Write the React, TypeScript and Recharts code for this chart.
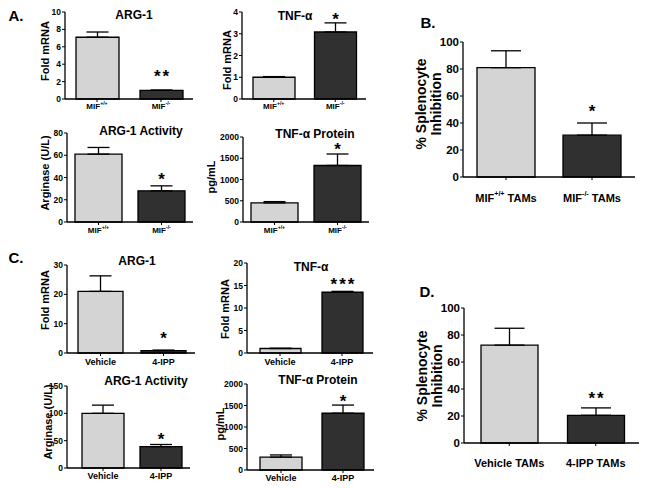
// Figure: MIF / 4-IPP effects on TAM polarisation markers and splenocyte inhibition.
// Ten small bar panels laid out absolutely to match the original multi-panel figure.
import React from 'react';
import { BarChart, Bar, XAxis, YAxis, ErrorBar, Cell, LabelList } from 'recharts';

const FONT = '"Liberation Sans", Arial, Helvetica, sans-serif';
const barFills = ['#d4d4d4', '#303030'];

// --- Panel A: MIF+/+ vs MIF-/- ---
const mifGroups = ['MIF+/+', 'MIF-/-'];
const arg1MifFold = [7.1, 1.0];
const arg1MifFoldErr = [0.6, 0.02];
const arg1MifSig = ['', '**'];
const arg1MifTicks = [0, 2, 4, 6, 8, 10];

const tnfMifFold = [1.0, 3.08];
const tnfMifFoldErr = [0.03, 0.42];
const tnfMifSig = ['', '*'];
const tnfMifTicks = [0, 1, 2, 3, 4];

const arg1MifActivity = [61, 28];
const arg1MifActivityErr = [6, 4.5];
const arg1MifActivitySig = ['', '*'];
const activityMifTicks = [0, 20, 40, 60, 80];

const tnfMifProtein = [450, 1330];
const tnfMifProteinErr = [30, 270];
const tnfMifProteinSig = ['', '*'];
const proteinTicks = [0, 500, 1000, 1500, 2000];

// --- Panel B ---
const mifTamGroups = ['MIF+/+ TAMs', 'MIF-/- TAMs'];
const splenoMif = [81, 31];
const splenoMifErr = [12.5, 9];
const splenoMifSig = ['', '*'];
const pctTicks = [0, 20, 40, 60, 80, 100];

// --- Panel C: Vehicle vs 4-IPP ---
const ippGroups = ['Vehicle', '4-IPP'];
const arg1IppFold = [21, 0.8];
const arg1IppFoldErr = [5.3, 0.2];
const arg1IppSig = ['', '*'];
const arg1IppTicks = [0, 10, 20, 30];

const tnfIppFold = [1.0, 13.5];
const tnfIppFoldErr = [0.05, 0.2];
const tnfIppSig = ['', '***'];
const tnfIppTicks = [0, 5, 10, 15, 20];

const arg1IppActivity = [100, 39];
const arg1IppActivityErr = [15, 4];
const arg1IppActivitySig = ['', '*'];
const activityIppTicks = [0, 50, 100, 150];

const tnfIppProtein = [300, 1320];
const tnfIppProteinErr = [50, 190];
const tnfIppProteinSig = ['', '*'];

// --- Panel D ---
const ippTamGroups = ['Vehicle TAMs', '4-IPP TAMs'];
const splenoIpp = [72.5, 20.5];
const splenoIppErr = [12.5, 5.5];
const splenoIppSig = ['', '**'];

const YW = 44;
const MT = 12;
const XH = 34;
const MR = 4;

const CatTick = (props: any) => {
  const { x, y, payload, font, gap } = props;
  const label: string = String(payload.value);
  const m = label.match(/^MIF([+\-]\/[+\-])(.*)$/);
  const common = {
    x,
    y: y - 3 + gap,
    textAnchor: 'middle' as const,
    dominantBaseline: 'central' as const,
    fontSize: font,
    fontWeight: 'bold',
    fontFamily: FONT,
    fill: '#000',
  };
  if (!m) return <text {...common}>{label}</text>;
  const sup = font * 0.65;
  return (
    <text {...common}>
      MIF
      <tspan fontSize={sup} dy={-font * 0.4}>{m[1]}</tspan>
      {m[2] ? <tspan dy={font * 0.4}>{'\u00a0' + m[2].trim()}</tspan> : null}
    </text>
  );
};

type PanelProps = {
  x: number;
  top: number;
  zero: number;
  right: number;
  padLeft?: number;
  cats: string[];
  values: number[];
  errors: number[];
  sig: string[];
  ticks: number[];
  barSize: number;
  cap: number;
  tickFont: number;
  catFont: number;
  catGap: number;
  starGap: number;
  starFont?: number;
};

function Panel(p: PanelProps) {
  const data = p.cats.map((cat, i) => ({ cat, value: p.values[i], err: [0, p.errors[i]], sig: p.sig[i] }));
  const width = YW + (p.right - p.x) + MR;
  const height = MT + (p.zero - p.top) + XH;
  const max = p.ticks[p.ticks.length - 1];
  const starFont = p.starFont ?? 17;

  const star = (props: any) => {
    const vb = props.viewBox ?? props;
    const idx = props.index;
    const val = props.value;
    if (!val || !vb) return null;
    const h = Math.abs(vb.height);
    const topY = Math.min(vb.y, vb.y + vb.height);
    const errPx = p.values[idx] ? (p.errors[idx] * h) / p.values[idx] : 0;
    const cy = topY - errPx - p.starGap;
    return (
      <text
        x={vb.x + vb.width / 2 + 1}
        y={cy + starFont * 0.57}
        textAnchor="middle"
        fontSize={starFont}
        fontWeight="bold"
        fontFamily={FONT}
        fill="#000"
        style={{ letterSpacing: 2 }}
      >
        {val}
      </text>
    );
  };

  return (
    <div style={{ position: 'absolute', left: p.x - YW, top: p.top - MT }}>
      <BarChart width={width} height={height} data={data} margin={{ top: MT, right: MR, left: 0, bottom: 0 }}>
        <XAxis
          dataKey="cat"
          height={XH}
          interval={0}
          tickSize={3}
          tickMargin={0}
          padding={{ left: p.padLeft ?? 0, right: 0 }}
          axisLine={{ stroke: '#000', strokeWidth: 1.3 }}
          tickLine={{ stroke: '#000', strokeWidth: 1 }}
          tick={<CatTick font={p.catFont} gap={p.catGap} />}
        />
        <YAxis
          width={YW}
          domain={[0, max]}
          ticks={p.ticks}
          interval={0}
          tickSize={3}
          tickMargin={1}
          axisLine={{ stroke: '#000', strokeWidth: 1.3 }}
          tickLine={{ stroke: '#000', strokeWidth: 1 }}
          tick={{ fontSize: p.tickFont, fill: '#000', fontWeight: 'bold', fontFamily: FONT }}
        />
        <Bar dataKey="value" barSize={p.barSize} stroke="#000" strokeWidth={1.3} isAnimationActive={false}>
          {data.map((d, i) => (
            <Cell key={d.cat} fill={barFills[i]} />
          ))}
          <ErrorBar dataKey="err" width={p.cap} stroke="#000" strokeWidth={1.3} direction="y" />
          <LabelList dataKey="sig" content={star} />
        </Bar>
      </BarChart>
    </div>
  );
}

const Txt = ({ x, y, size, rotate, children }: any) => (
  <div
    style={{
      position: 'absolute',
      left: x,
      top: y,
      transform: `translate(-50%, -50%)${rotate ? ' rotate(-90deg)' : ''}`,
      fontFamily: FONT,
      fontWeight: 'bold',
      fontSize: size,
      whiteSpace: 'nowrap',
      lineHeight: rotate === 2 ? '14.5px' : 1,
      textAlign: 'center',
      color: '#000',
    }}
  >
    {children}
  </div>
);

const small = { tickFont: 8.5, catFont: 8, catGap: 7, cap: 11 };
const smallC = { tickFont: 8.5, catFont: 9, catGap: 9, cap: 11 };
const big = { tickFont: 11.5, catFont: 11, catGap: 21, cap: 15 };

export default function App() {
  return (
    <div style={{ position: 'absolute', left: 0, top: 0, width: 645, height: 488, background: '#fff', overflow: 'hidden' }}>
      {/* A */}
      <Panel {...small} x={65} top={12} zero={99} right={193} cats={mifGroups} values={arg1MifFold} errors={arg1MifFoldErr} sig={arg1MifSig} ticks={arg1MifTicks} barSize={43} starGap={18} />
      <Panel {...small} x={242} top={12} zero={99} right={366} padLeft={1} cats={mifGroups} values={tnfMifFold} errors={tnfMifFoldErr} sig={tnfMifSig} ticks={tnfMifTicks} barSize={42} starGap={8} />
      <Panel {...small} catGap={8} x={67} top={133} zero={222} right={193} cats={mifGroups} values={arg1MifActivity} errors={arg1MifActivityErr} sig={arg1MifActivitySig} ticks={activityMifTicks} barSize={47} starGap={11} />
      <Panel {...small} catGap={8} x={243} top={137} zero={222} right={369} cats={mifGroups} values={tnfMifProtein} errors={tnfMifProteinErr} sig={tnfMifProteinSig} ticks={proteinTicks} barSize={47} starGap={9} />

      {/* B */}
      <Panel {...big} x={463} top={42} zero={177} right={635} cats={mifTamGroups} values={splenoMif} errors={splenoMifErr} sig={splenoMifSig} ticks={pctTicks} barSize={58} starGap={16} />

      {/* C */}
      <Panel {...smallC} x={67} top={265} zero={353} right={195} padLeft={2} cats={ippGroups} values={arg1IppFold} errors={arg1IppFoldErr} sig={arg1IppSig} ticks={arg1IppTicks} barSize={45} starGap={16} />
      <Panel {...smallC} x={247} top={263} zero={353} right={373} padLeft={2} cats={ippGroups} values={tnfIppFold} errors={tnfIppFoldErr} sig={tnfIppSig} ticks={tnfIppTicks} barSize={41} starGap={11} />
      <Panel {...smallC} catGap={8} x={67} top={386} zero={468} right={190} padLeft={7} cats={ippGroups} values={arg1IppActivity} errors={arg1IppActivityErr} sig={arg1IppActivitySig} ticks={activityIppTicks} barSize={42} starGap={9} />
      <Panel {...smallC} catGap={8} x={247} top={384} zero={470} right={374} padLeft={3} cats={ippGroups} values={tnfIppProtein} errors={tnfIppProteinErr} sig={tnfIppProteinSig} ticks={proteinTicks} barSize={42} starGap={8} />

      {/* D */}
      <Panel {...big} catGap={20} x={464} top={308} zero={443} right={639} padLeft={2} cats={ippTamGroups} values={splenoIpp} errors={splenoIppErr} sig={splenoIppSig} ticks={pctTicks} barSize={57} starGap={14} />

      {/* panel letters */}
      <Txt x={16} y={15} size={15}>A.</Txt>
      <Txt x={428} y={22} size={15}>B.</Txt>
      <Txt x={16} y={257} size={15}>C.</Txt>
      <Txt x={427} y={291} size={15}>D.</Txt>

      {/* titles */}
      <Txt x={134} y={15} size={12}>ARG-1</Txt>
      <Txt x={295} y={16} size={12}>TNF-α</Txt>
      <Txt x={141} y={131} size={12}>ARG-1 Activity</Txt>
      <Txt x={315} y={134} size={12}>TNF-α Protein</Txt>
      <Txt x={137} y={261} size={12}>ARG-1</Txt>
      <Txt x={311} y={267} size={12}>TNF-α</Txt>
      <Txt x={146} y={381} size={12}>ARG-1 Activity</Txt>
      <Txt x={318} y={380} size={12}>TNF-α Protein</Txt>

      {/* y-axis labels */}
      <Txt x={45} y={51} size={11} rotate={1}>Fold mRNA</Txt>
      <Txt x={227} y={60} size={11} rotate={1}>Fold mRNA</Txt>
      <Txt x={45} y={173} size={11} rotate={1}>Arginase (U/L)</Txt>
      <Txt x={211} y={177} size={11} rotate={1}>pg/mL</Txt>
      <Txt x={45} y={300} size={11} rotate={1}>Fold mRNA</Txt>
      <Txt x={225} y={309} size={11} rotate={1}>Fold mRNA</Txt>
      <Txt x={48} y={422} size={11} rotate={1}>Arginase (U/L)</Txt>
      <Txt x={220} y={424} size={11} rotate={1}>pg/mL</Txt>
      <Txt x={428} y={104} size={14} rotate={2}>% Splenocyte<br />Inhibition</Txt>
      <Txt x={429} y={376} size={14} rotate={2}>% Splenocyte<br />Inhibition</Txt>
    </div>
  );
}
